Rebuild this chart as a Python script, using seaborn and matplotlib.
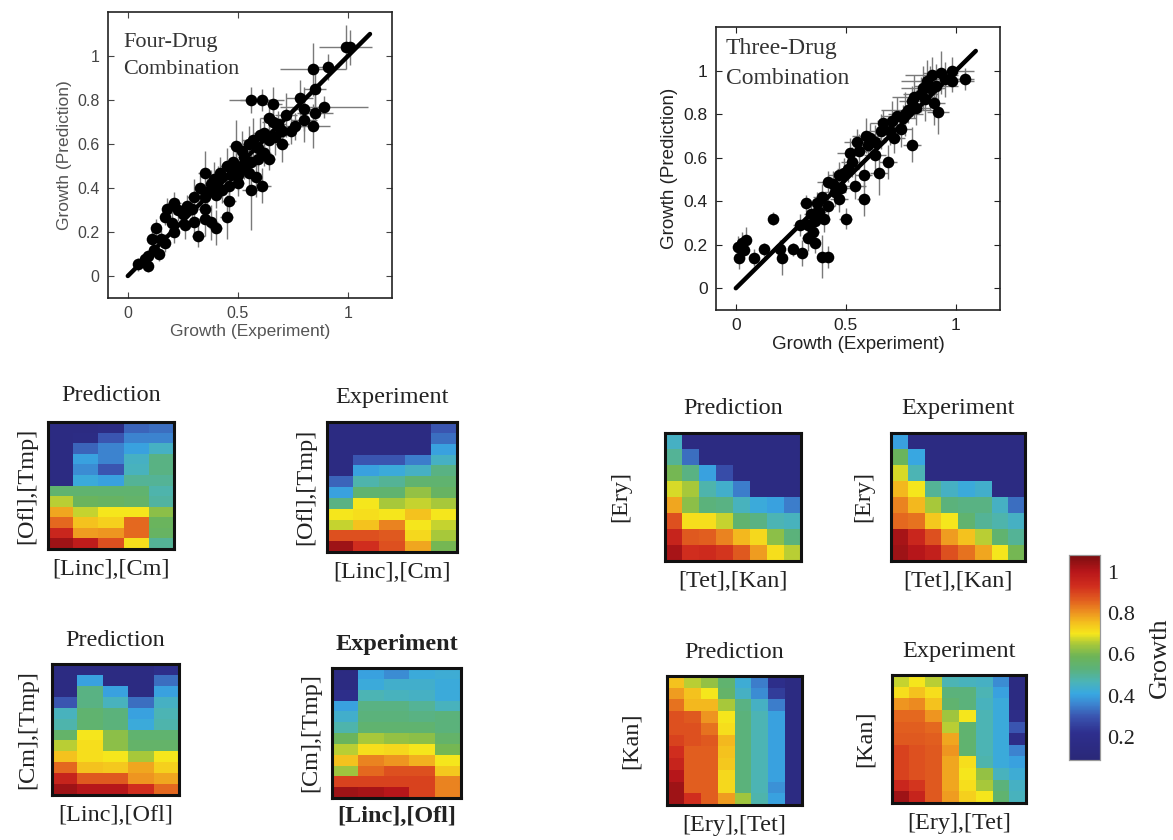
import numpy as np
import pandas as pd
import matplotlib
matplotlib.use("Agg")
import matplotlib.pyplot as plt
from matplotlib.colors import LinearSegmentedColormap
import seaborn as sns

# ---------------- data ----------------
four_exp  = [0.99,1.01,0.84,0.91,0.85,0.56,0.61,0.66,0.78,0.80,0.85,0.89,0.64,0.80,0.68,0.69,0.74,0.76,0.84,
             0.60,0.64,0.70,0.49,0.59,0.62,0.53,0.56,0.59,0.64,0.49,0.51,0.53,0.35,0.43,0.47,0.39,0.50,0.46,
             0.61,0.56,0.43,0.46,0.40,0.30,0.35,0.21,0.18,0.17,0.27,0.29,0.35,0.35,0.38,0.45,0.26,0.30,0.13,
             0.11,0.15,0.17,0.21,0.32,0.40,0.047,0.092,0.077,
             0.42,0.45,0.48,0.52,0.55,0.57,0.38,0.41,0.33,0.36,0.25,0.23,0.20,0.12,0.14,0.09,0.62,0.66,
             0.72,0.70,0.67,0.55,0.58,0.50]
four_pred = [1.04,1.04,0.94,0.95,0.85,0.80,0.80,0.78,0.81,0.76,0.74,0.77,0.72,0.71,0.69,0.67,0.66,0.68,0.68,
             0.64,0.62,0.60,0.59,0.58,0.56,0.54,0.52,0.53,0.53,0.50,0.49,0.49,0.47,0.45,0.46,0.44,0.425,0.41,
             0.41,0.39,0.39,0.34,0.37,0.36,0.36,0.33,0.305,0.27,0.32,0.305,0.305,0.26,0.245,0.27,0.23,0.245,0.22,
             0.17,0.17,0.15,0.20,0.18,0.22,0.054,0.046,0.077,
             0.47,0.50,0.52,0.57,0.60,0.62,0.42,0.43,0.40,0.38,0.28,0.30,0.24,0.12,0.10,0.09,0.65,0.70,
             0.73,0.66,0.63,0.47,0.45,0.46]
four_xerr = [0.12,0.04,0.15,0.05,0.05,0.10,0.10,0.04,0.06,0.05,0.08,0.20,0.04,0.06,0.04,0.03,0.03,0.04,0.08,
             0.03,0.04,0.03,0.03,0.04,0.03,0.03,0.03,0.04,0.03,0.03,0.03,0.03,0.03,0.04,0.03,0.03,0.03,0.03,
             0.04,0.04,0.03,0.03,0.03,0.03,0.03,0.03,0.02,0.02,0.03,0.03,0.03,0.03,0.03,0.03,0.03,0.03,0.02,
             0.02,0.02,0.02,0.02,0.03,0.03,0.01,0.02,0.02,
             0.03,0.03,0.04,0.04,0.04,0.05,0.03,0.03,0.03,0.03,0.02,0.02,0.02,0.02,0.02,0.02,0.05,0.05,
             0.05,0.04,0.04,0.03,0.03,0.03]
four_yerr = [0.10,0.08,0.12,0.06,0.10,0.06,0.05,0.08,0.08,0.10,0.08,0.05,0.08,0.10,0.06,0.05,0.06,0.06,0.10,
             0.08,0.06,0.08,0.12,0.08,0.06,0.08,0.08,0.06,0.05,0.06,0.07,0.05,0.10,0.06,0.06,0.08,0.06,0.08,
             0.08,0.18,0.06,0.05,0.06,0.08,0.06,0.05,0.05,0.04,0.05,0.05,0.07,0.08,0.08,0.10,0.06,0.05,0.04,
             0.04,0.04,0.04,0.05,0.05,0.08,0.03,0.03,0.03,
             0.07,0.08,0.06,0.09,0.08,0.10,0.06,0.07,0.06,0.06,0.05,0.05,0.05,0.03,0.03,0.03,0.08,0.09,
             0.10,0.08,0.08,0.08,0.09,0.07]

three_exp  = [0.008,0.015,0.038,0.03,0.045,0.083,0.13,0.17,0.20,0.21,0.26,0.30,0.32,0.29,0.33,0.36,0.39,0.42,
              0.36,0.38,0.40,0.37,0.42,0.45,0.47,0.42,0.50,0.54,0.58,0.51,0.53,0.55,0.58,0.60,0.61,0.63,0.65,
              0.67,0.69,0.70,0.72,0.75,0.76,0.78,0.80,0.80,0.82,0.84,0.86,0.88,0.90,0.92,0.89,0.93,0.95,0.98,
              1.04,0.98,
              0.44,0.47,0.49,0.52,0.56,0.59,0.63,0.66,0.71,0.73,0.77,0.81,0.85,0.87,0.91,0.34,0.33,0.39,
              0.48,0.35]
three_pred = [0.19,0.14,0.176,0.21,0.22,0.14,0.18,0.32,0.18,0.14,0.18,0.16,0.39,0.29,0.23,0.21,0.145,0.145,
              0.31,0.35,0.32,0.39,0.49,0.44,0.41,0.38,0.32,0.47,0.41,0.55,0.58,0.67,0.52,0.66,0.69,0.61,0.53,
              0.76,0.58,0.72,0.69,0.73,0.78,0.82,0.66,0.86,0.83,0.89,0.87,0.92,0.85,0.81,0.98,0.99,0.96,0.95,
              0.96,1.00,
              0.48,0.52,0.53,0.62,0.63,0.70,0.67,0.72,0.77,0.79,0.80,0.88,0.92,0.95,0.93,0.34,0.29,0.42,
              0.46,0.26]
three_xerr = [0.01,0.01,0.02,0.02,0.02,0.02,0.02,0.02,0.02,0.02,0.02,0.02,0.03,0.03,0.03,0.02,0.02,0.02,
              0.03,0.03,0.03,0.03,0.05,0.05,0.04,0.03,0.03,0.05,0.03,0.05,0.05,0.06,0.04,0.05,0.05,0.05,0.04,
              0.06,0.04,0.05,0.05,0.05,0.06,0.12,0.04,0.06,0.06,0.08,0.06,0.06,0.05,0.05,0.12,0.08,0.10,0.10,
              0.04,0.10,
              0.05,0.05,0.05,0.06,0.06,0.06,0.05,0.06,0.07,0.07,0.08,0.10,0.10,0.12,0.10,0.03,0.03,0.04,
              0.05,0.03]
three_yerr = [0.05,0.05,0.04,0.05,0.06,0.04,0.03,0.03,0.04,0.08,0.03,0.06,0.04,0.05,0.06,0.05,0.10,0.05,
              0.06,0.05,0.06,0.05,0.05,0.06,0.06,0.05,0.05,0.06,0.08,0.06,0.07,0.06,0.06,0.06,0.07,0.06,0.10,
              0.06,0.08,0.06,0.07,0.08,0.06,0.06,0.08,0.07,0.08,0.08,0.10,0.10,0.10,0.10,0.08,0.10,0.08,0.05,
              0.05,0.06,
              0.06,0.06,0.07,0.07,0.08,0.08,0.08,0.08,0.09,0.09,0.10,0.10,0.10,0.10,0.10,0.05,0.06,0.06,
              0.06,0.05]

four_pred_A = [
    [0.15,0.15,0.16,0.32,0.33],
    [0.15,0.16,0.30,0.36,0.36],
    [0.15,0.32,0.36,0.40,0.45],
    [0.15,0.40,0.36,0.45,0.52],
    [0.15,0.37,0.30,0.46,0.52],
    [0.15,0.42,0.40,0.50,0.50],
    [0.55,0.55,0.55,0.55,0.48],
    [0.66,0.58,0.57,0.56,0.49],
    [0.78,0.67,0.70,0.70,0.62],
    [0.85,0.75,0.73,0.85,0.58],
    [0.95,0.79,0.80,0.85,0.57],
    [1.03,0.98,0.88,0.71,0.50],
]
four_exp_A = [
    [0.15,0.15,0.15,0.15,0.30],
    [0.15,0.15,0.15,0.15,0.33],
    [0.15,0.15,0.15,0.15,0.40],
    [0.15,0.30,0.30,0.35,0.45],
    [0.15,0.40,0.42,0.45,0.52],
    [0.32,0.48,0.50,0.55,0.55],
    [0.40,0.55,0.55,0.63,0.57],
    [0.52,0.70,0.65,0.67,0.65],
    [0.70,0.71,0.70,0.75,0.70],
    [0.67,0.75,0.82,0.70,0.67],
    [0.88,0.88,0.87,0.72,0.65],
    [1.03,0.93,0.88,0.78,0.60],
]
four_pred_B = [
    [0.15,0.15,0.15,0.15,0.20],
    [0.15,0.40,0.15,0.15,0.33],
    [0.15,0.52,0.40,0.15,0.40],
    [0.30,0.52,0.46,0.33,0.45],
    [0.46,0.55,0.53,0.40,0.47],
    [0.48,0.55,0.53,0.42,0.48],
    [0.56,0.70,0.62,0.55,0.55],
    [0.66,0.71,0.62,0.56,0.56],
    [0.75,0.71,0.70,0.65,0.70],
    [0.85,0.75,0.74,0.78,0.73],
    [0.96,0.87,0.87,0.80,0.78],
    [1.03,1.00,1.00,0.93,0.85],
]
four_exp_B = [
    [0.15,0.40,0.37,0.42,0.43],
    [0.15,0.42,0.44,0.44,0.42],
    [0.20,0.47,0.46,0.45,0.42],
    [0.40,0.52,0.52,0.50,0.46],
    [0.44,0.53,0.53,0.52,0.53],
    [0.48,0.55,0.55,0.55,0.53],
    [0.58,0.65,0.63,0.62,0.56],
    [0.66,0.71,0.72,0.70,0.60],
    [0.75,0.82,0.80,0.77,0.70],
    [0.64,0.85,0.88,0.88,0.74],
    [0.90,0.90,0.90,0.90,0.82],
    [1.03,1.02,1.00,0.90,0.82],
]
three_pred_A = [
    [0.45,0.15,0.15,0.15,0.15,0.15,0.15,0.15],
    [0.50,0.33,0.15,0.15,0.15,0.15,0.15,0.15],
    [0.60,0.52,0.40,0.28,0.15,0.15,0.15,0.15],
    [0.68,0.65,0.48,0.44,0.35,0.15,0.15,0.15],
    [0.78,0.62,0.53,0.52,0.46,0.42,0.40,0.35],
    [0.88,0.71,0.71,0.67,0.55,0.52,0.47,0.46],
    [0.96,0.87,0.86,0.82,0.76,0.72,0.62,0.53],
    [1.02,0.93,0.94,0.92,0.87,0.79,0.71,0.66],
]
three_exp_A = [
    [0.40,0.15,0.15,0.15,0.15,0.15,0.15,0.15],
    [0.58,0.41,0.15,0.15,0.15,0.15,0.15,0.15],
    [0.68,0.47,0.15,0.15,0.15,0.15,0.15,0.15],
    [0.76,0.70,0.50,0.45,0.42,0.44,0.15,0.15],
    [0.82,0.76,0.65,0.53,0.52,0.52,0.45,0.33],
    [0.85,0.84,0.74,0.70,0.55,0.50,0.48,0.45],
    [1.02,0.95,0.88,0.79,0.75,0.66,0.55,0.50],
    [1.03,1.00,0.97,0.88,0.84,0.78,0.70,0.60],
]
three_pred_B = [
    [0.75,0.66,0.63,0.55,0.43,0.35,0.20,0.15],
    [0.79,0.75,0.70,0.56,0.45,0.37,0.25,0.15],
    [0.84,0.76,0.76,0.65,0.52,0.45,0.35,0.15],
    [0.88,0.87,0.80,0.70,0.53,0.47,0.40,0.15],
    [0.88,0.88,0.84,0.71,0.53,0.47,0.40,0.15],
    [0.90,0.88,0.87,0.76,0.53,0.47,0.40,0.15],
    [0.93,0.86,0.86,0.75,0.53,0.47,0.40,0.15],
    [0.96,0.86,0.86,0.74,0.53,0.47,0.40,0.15],
    [1.00,0.86,0.86,0.72,0.53,0.47,0.40,0.15],
    [1.03,0.86,0.86,0.72,0.53,0.47,0.38,0.15],
    [1.03,0.93,0.86,0.79,0.64,0.48,0.40,0.15],
]
three_exp_B = [
    [0.67,0.70,0.66,0.47,0.46,0.45,0.37,0.15],
    [0.71,0.75,0.71,0.53,0.53,0.47,0.40,0.15],
    [0.80,0.81,0.75,0.55,0.53,0.46,0.42,0.15],
    [0.85,0.85,0.80,0.64,0.70,0.47,0.42,0.18],
    [0.86,0.86,0.85,0.66,0.55,0.47,0.42,0.30],
    [0.87,0.87,0.86,0.78,0.55,0.47,0.42,0.18],
    [0.90,0.88,0.87,0.80,0.55,0.47,0.42,0.36],
    [0.90,0.88,0.87,0.78,0.71,0.48,0.42,0.40],
    [0.90,0.88,0.87,0.78,0.70,0.63,0.46,0.43],
    [0.95,0.92,0.87,0.78,0.71,0.65,0.53,0.45],
    [1.03,0.96,0.87,0.79,0.73,0.70,0.55,0.46],
]

cbar_ticks = [0.2, 0.4, 0.6, 0.8, 1.0]
cbar_ticklabels = ["0.2", "0.4", "0.6", "0.8", "1"]

# ---------------- style ----------------
sns.set_theme(style="white")
SANS = ["Liberation Sans", "DejaVu Sans"]
SERIF = ["Liberation Serif", "DejaVu Serif"]
plt.rcParams["font.family"] = SERIF

VMIN, VMAX = 0.09, 1.08
anchors = [(0.09, '#2a2878'), (0.22, '#2e2f8e'), (0.30, '#3a55b0'), (0.36, '#3c85d0'),
           (0.41, '#38a8e2'), (0.47, '#4cb4b4'), (0.53, '#5bb27a'), (0.59, '#6db457'),
           (0.65, '#a8c83a'), (0.70, '#f6e61c'), (0.75, '#f4c21e'), (0.80, '#ee9520'),
           (0.86, '#e2601f'), (0.93, '#d12e1e'), (1.00, '#b8161a'), (1.08, '#7a0e10')]
cmap = LinearSegmentedColormap.from_list(
    "growth", [((v - VMIN) / (VMAX - VMIN), c) for v, c in anchors])

W, H = 1173, 840
fig = plt.figure(figsize=(W / 100, H / 100), dpi=100)
fig.patch.set_facecolor("white")


def px_axes(x0, y0, x1, y1):
    return fig.add_axes([x0 / W, 1 - y1 / H, (x1 - x0) / W, (y1 - y0) / H])


def scatter_panel(rect, xs, ys, xe, ye, line_end, label, lab_pos, fs_tick, fs_lab, lab_color,
                  fs_text, tick_color):
    ax = px_axes(*rect)
    ax.errorbar(xs, ys, xerr=xe, yerr=ye, fmt="none", ecolor="#7a7a7a",
                elinewidth=1.0, capsize=0, zorder=1)
    df = pd.DataFrame({"x": xs, "y": ys})
    sns.scatterplot(data=df, x="x", y="y", ax=ax, color="black", s=70,
                    edgecolor="black", linewidth=0, zorder=3)
    ax.plot([0, line_end], [0, line_end], color="black", lw=3.2, zorder=4,
            solid_capstyle="round")
    ax.set_xlim(-0.09, 1.2)
    ax.set_ylim(-0.1, 1.2)
    ax.set_xticks([0, 0.5, 1])
    ax.set_xticklabels(["0", "0.5", "1"], family=SANS, fontsize=fs_tick, color=tick_color)
    ax.set_yticks([0, 0.2, 0.4, 0.6, 0.8, 1])
    ax.set_yticklabels(["0", "0.2", "0.4", "0.6", "0.8", "1"], family=SANS,
                       fontsize=fs_tick, color=tick_color)
    ax.tick_params(direction="in", length=4, width=0.8, top=True, right=True,
                   bottom=True, left=True, colors=tick_color, pad=6)
    ax.set_xlabel("Growth (Experiment)", family=SANS, fontsize=fs_lab, color=lab_color, labelpad=2)
    ax.set_ylabel("Growth (Prediction)", family=SANS, fontsize=fs_lab, color=lab_color, labelpad=4)
    for s in ax.spines.values():
        s.set_visible(True)
        s.set_color("#222222")
        s.set_linewidth(1.2)
    ax.text(lab_pos[0], lab_pos[1], label, transform=ax.transAxes, family=SERIF,
            fontsize=fs_text, color="#333333", va="top", ha="left", linespacing=1.55)
    return ax


scatter_panel((108, 12, 392, 298), four_exp, four_pred, four_xerr, four_yerr, 1.1,
              "Four-Drug\nCombination", (0.055, 0.925), 11.5, 12.5, "#555555", 16, "#444444")
scatter_panel((716, 27, 1000, 310), three_exp, three_pred, three_xerr, three_yerr, 1.09,
              "Three-Drug\nCombination", (0.035, 0.96), 12.5, 13.5, "#222222", 17, "#222222")


def heat_panel(rect, data, title, xlabel, ylabel, bold=False, cbar_ax=None,
               tpad=13, xpad=7, ypad=8):
    ax = px_axes(*rect)
    sns.heatmap(np.array(data), ax=ax, cmap=cmap, vmin=VMIN, vmax=VMAX,
                cbar=cbar_ax is not None, cbar_ax=cbar_ax,
                xticklabels=False, yticklabels=False, square=False)
    for s in ax.spines.values():
        s.set_visible(True)
        s.set_color("#111111")
        s.set_linewidth(2.2)
    w = "bold" if bold else "normal"
    ax.set_title(title, family=SERIF, fontsize=17.5, pad=tpad, color="#222222", fontweight=w)
    ax.set_xlabel(xlabel, family=SERIF, fontsize=17.5, labelpad=xpad, color="#222222", fontweight=w)
    ax.set_ylabel(ylabel, family=SERIF, fontsize=17.5, labelpad=ypad, color="#222222")
    return ax


heat_panel((48, 422, 174, 549), four_pred_A, "Prediction", "[Linc],[Cm]", "[Ofl],[Tmp]", tpad=15)
heat_panel((327, 422, 457, 552), four_exp_A, "Experiment", "[Linc],[Cm]", "[Ofl],[Tmp]", tpad=14)
heat_panel((52, 664, 179, 795), four_pred_B, "Prediction", "[Linc],[Ofl]", "[Cm],[Tmp]", ypad=10)
heat_panel((332, 668, 461, 798), four_exp_B, "Experiment", "[Linc],[Ofl]", "[Cm],[Tmp]", bold=True,
           xpad=6)
heat_panel((665, 433, 801, 561), three_pred_A, "Prediction", "[Tet],[Kan]", "[Ery]", ypad=24, tpad=14)
heat_panel((891, 433, 1025, 561), three_exp_A, "Experiment", "[Tet],[Kan]", "[Ery]", ypad=12, tpad=14)
heat_panel((667, 676, 802, 805), three_pred_B, "Prediction", "[Ery],[Tet]", "[Kan]", ypad=18)

cax = px_axes(1069, 555, 1100, 760)
heat_panel((892, 675, 1026, 803), three_exp_B, "Experiment", "[Ery],[Tet]", "[Kan]", cbar_ax=cax,
           ypad=12)
cax.set_ylim(VMIN, VMAX)
cax.set_yticks(cbar_ticks)
cax.set_yticklabels(cbar_ticklabels, family=SERIF, fontsize=16, color="#222222")
cax.tick_params(direction="in", length=4, width=0.8, right=True, left=True, colors="#222222", pad=5)
cax.set_ylabel("Growth", family=SERIF, fontsize=19, rotation=90, labelpad=10, color="#222222")
for s in cax.spines.values():
    s.set_visible(True)
    s.set_color("#999999")
    s.set_linewidth(0.8)

fig.savefig("out.png", dpi=100, facecolor="white")
